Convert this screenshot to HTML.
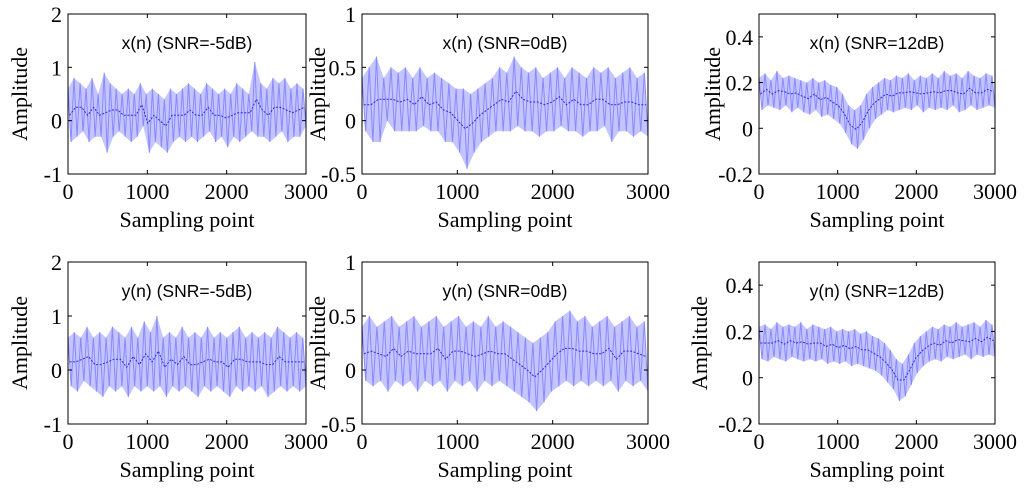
<!DOCTYPE html>
<html><head><meta charset="utf-8"><style>
body{margin:0;background:#fff}
svg{display:block}
.tk{font-family:"Liberation Serif",serif;font-size:22px;fill:#000}
.lb{font-family:"Liberation Serif",serif;font-size:22px;fill:#000}
.tt{font-family:"Liberation Sans",sans-serif;font-size:17.5px;fill:#000}
</style></head><body>
<svg id="fig" width="1024" height="489" viewBox="0 0 1024 489" xmlns="http://www.w3.org/2000/svg"></svg>
<script>
const xTicks=[0,1000,2000,3000];
const sampleMax=3000;
const titles=["x(n) (SNR=-5dB)","x(n) (SNR=0dB)","x(n) (SNR=12dB)","y(n) (SNR=-5dB)","y(n) (SNR=0dB)","y(n) (SNR=12dB)"];
const yRanges=[[-1,2],[-0.5,1],[-0.2,0.5],[-1,2],[-0.5,1],[-0.2,0.5]];
const yTickLists=[[-1,0,1,2],[-0.5,0,0.5,1],[-0.2,0,0.2,0.4],[-1,0,1,2],[-0.5,0,0.5,1],[-0.2,0,0.2,0.4]];
const x1=[0.6,-0.4,0.8,-0.3,0.7,-0.2,0.6,-0.4,0.8,-0.3,0.5,-0.3,0.9,-0.6,0.7,-0.3,0.6,-0.2,0.5,-0.3,0.6,-0.4,0.5,-0.3,0.7,-0.1,0.5,-0.6,0.6,-0.4,0.5,-0.5,0.4,-0.6,0.6,-0.4,0.5,-0.3,0.6,-0.4,0.7,-0.3,0.6,-0.4,0.5,-0.3,0.7,-0.2,0.6,-0.4,0.5,-0.3,0.6,-0.5,0.5,-0.3,0.7,-0.4,0.6,-0.3,0.5,-0.2,1.1,-0.3,0.7,-0.3,0.6,-0.4,0.8,-0.3,0.7,-0.2,0.8,-0.4,0.6,-0.3,0.7,-0.3,0.6,-0.1];
const x2=[0.4,-0.1,0.5,-0.2,0.6,-0.2,0.4,0.0,0.5,-0.1,0.45,-0.1,0.5,-0.1,0.4,-0.1,0.5,-0.05,0.4,-0.1,0.45,-0.1,0.4,-0.2,0.35,-0.2,0.3,-0.3,0.3,-0.45,0.25,-0.3,0.3,-0.2,0.35,-0.15,0.4,-0.1,0.5,-0.1,0.45,-0.1,0.6,-0.05,0.5,-0.1,0.45,-0.1,0.5,-0.15,0.4,-0.1,0.45,-0.1,0.5,-0.05,0.4,-0.1,0.5,-0.1,0.45,-0.15,0.4,-0.1,0.5,-0.1,0.45,-0.05,0.5,-0.2,0.4,-0.1,0.45,-0.1,0.5,-0.15,0.4,-0.1,0.45,-0.15];
const x3=[0.22,0.08,0.24,0.1,0.21,0.09,0.25,0.08,0.22,0.1,0.23,0.07,0.22,0.09,0.21,0.07,0.2,0.06,0.22,0.08,0.2,0.05,0.21,0.06,0.19,0.04,0.18,0.02,0.15,-0.02,0.1,-0.07,0.08,-0.09,0.1,-0.05,0.15,0.0,0.18,0.04,0.2,0.06,0.22,0.08,0.21,0.07,0.23,0.08,0.22,0.09,0.24,0.08,0.21,0.1,0.23,0.07,0.22,0.09,0.24,0.08,0.22,0.09,0.25,0.08,0.23,0.1,0.24,0.07,0.22,0.08,0.25,0.1,0.23,0.08,0.22,0.09,0.24,0.1,0.23,0.09];
const y1=[0.6,-0.3,0.7,-0.4,0.6,-0.2,0.8,-0.3,0.6,-0.4,0.7,-0.5,0.6,-0.3,0.8,-0.4,0.7,-0.3,0.6,-0.5,0.8,-0.3,0.6,-0.4,0.9,-0.3,0.7,-0.4,1.0,-0.3,0.6,-0.5,0.7,-0.3,0.6,-0.4,0.8,-0.3,0.6,-0.4,0.7,-0.5,0.6,-0.3,0.8,-0.4,0.6,-0.3,0.7,-0.4,0.6,-0.5,0.7,-0.3,0.8,-0.4,0.6,-0.3,0.7,-0.4,0.6,-0.3,0.7,-0.5,0.6,-0.4,0.8,-0.3,0.7,-0.4,0.6,-0.3,0.7,-0.4,0.6,-0.3];
const y2=[0.4,-0.1,0.5,-0.15,0.4,-0.1,0.45,-0.2,0.5,-0.1,0.4,-0.15,0.45,-0.1,0.5,-0.2,0.4,-0.1,0.45,-0.15,0.5,-0.1,0.4,-0.2,0.45,-0.1,0.5,-0.15,0.4,-0.1,0.45,-0.2,0.4,-0.1,0.5,-0.15,0.4,-0.1,0.45,-0.15,0.4,-0.2,0.35,-0.25,0.3,-0.3,0.25,-0.38,0.3,-0.3,0.35,-0.2,0.45,-0.15,0.5,-0.1,0.55,-0.15,0.45,-0.1,0.5,-0.15,0.4,-0.1,0.45,-0.15,0.5,-0.1,0.4,-0.2,0.45,-0.1,0.5,-0.15,0.4,-0.1,0.45,-0.2];
const y3=[0.22,0.08,0.23,0.07,0.21,0.09,0.24,0.08,0.22,0.07,0.23,0.09,0.22,0.08,0.24,0.07,0.21,0.08,0.23,0.07,0.22,0.08,0.21,0.06,0.22,0.07,0.2,0.06,0.21,0.07,0.2,0.05,0.21,0.06,0.19,0.05,0.2,0.04,0.18,0.03,0.17,0.01,0.15,-0.02,0.12,-0.05,0.08,-0.1,0.06,-0.08,0.1,-0.03,0.15,0.02,0.18,0.05,0.2,0.07,0.22,0.08,0.21,0.07,0.23,0.09,0.22,0.08,0.24,0.09,0.22,0.1,0.23,0.08,0.24,0.1,0.22,0.09,0.25,0.1,0.23,0.09];
const series=[x1,x2,x3,y1,y2,y3];
const boxes=[[68,14,306,174],[362,14,648,174],[759,14,995,174],[68,262,306,424],[362,262,648,424],[759,262,995,424]];
const ylabX=[22,320,715,22,320,702];
const NS="http://www.w3.org/2000/svg";
const svg=document.getElementById('fig');
function mk(t,a,p){const e=document.createElementNS(NS,t);for(const k in a)e.setAttribute(k,a[k]);(p||svg).appendChild(e);return e;}
for(let i=0;i<6;i++){
  const [L,T,R,B]=boxes[i],[y0,y1r]=yRanges[i];
  const g=mk('g',{});
  
  
  const sx=v=>L+(R-L)*v/sampleMax, sy=v=>B-(B-T)*(v-y0)/(y1r-y0);
  const d=series[i];
  const px=j=>sx(j*sampleMax/(d.length-1));
  // envelope band
  let up=[],lo=[];
  for(let j=0;j<d.length;j++){const p=px(j).toFixed(1)+','+sy(d[j]).toFixed(1); if(j%2===0)up.push(p); else lo.push(p);}
  const band=mk('polygon',{points:up.concat(lo.reverse()).join(' '),fill:'#c4c4ff',stroke:'none'},g);
  
  
  let pts=d.map((v,j)=>px(j).toFixed(1)+','+sy(v).toFixed(1)).join(' ');
  const pl=mk('polyline',{points:pts,fill:'none',stroke:'#8a8aff','stroke-width':1},g);
  
  
  let mid=[];for(let j=0;j+1<d.length;j+=2){mid.push(sx((j+0.5)*sampleMax/(d.length-1)).toFixed(1)+','+sy((d[j]+d[j+1])/2).toFixed(1));}
  const ml=mk('polyline',{points:mid.join(' '),fill:'none',stroke:'#2a2ae8','stroke-width':1,'stroke-dasharray':'2 1.5'},g);
  
  
  const fr=mk('rect',{x:L,y:T,width:R-L,height:B-T,fill:'none',stroke:'#000','stroke-width':1},g);
  
  
  xTicks.forEach(v=>{const x=sx(v);
    mk('line',{x1:x,x2:x,y1:B,y2:B-4,stroke:'#000'},g);mk('line',{x1:x,x2:x,y1:T,y2:T+4,stroke:'#000'},g);
    const t=mk('text',{x:x,y:B+25,'text-anchor':'middle',class:'tk'},g);t.textContent=v;
    
    });
  yTickLists[i].forEach(v=>{const y=sy(v);
    mk('line',{x1:L,x2:L+4,y1:y,y2:y,stroke:'#000'},g);mk('line',{x1:R,x2:R-4,y1:y,y2:y,stroke:'#000'},g);
    const t=mk('text',{x:L-6,y:y+8,'text-anchor':'end',class:'tk'},g);t.textContent=String(v);
    
    });
  const tt=mk('text',{x:(L+R)/2,y:T+35,'text-anchor':'middle',class:'tt'},g);tt.textContent=titles[i];
  
  
  const xl=mk('text',{x:(L+R)/2,y:B+53,'text-anchor':'middle',class:'lb'},g);xl.textContent='Sampling point';
  
  
  const yc=(T+B)/2;
  const yl=mk('text',{x:ylabX[i],y:yc,'text-anchor':'middle',class:'lb',transform:'rotate(-90 '+ylabX[i]+' '+yc+')','dominant-baseline':'middle'},g);yl.textContent='Amplitude';
  
  
}
</script>
</body></html>
